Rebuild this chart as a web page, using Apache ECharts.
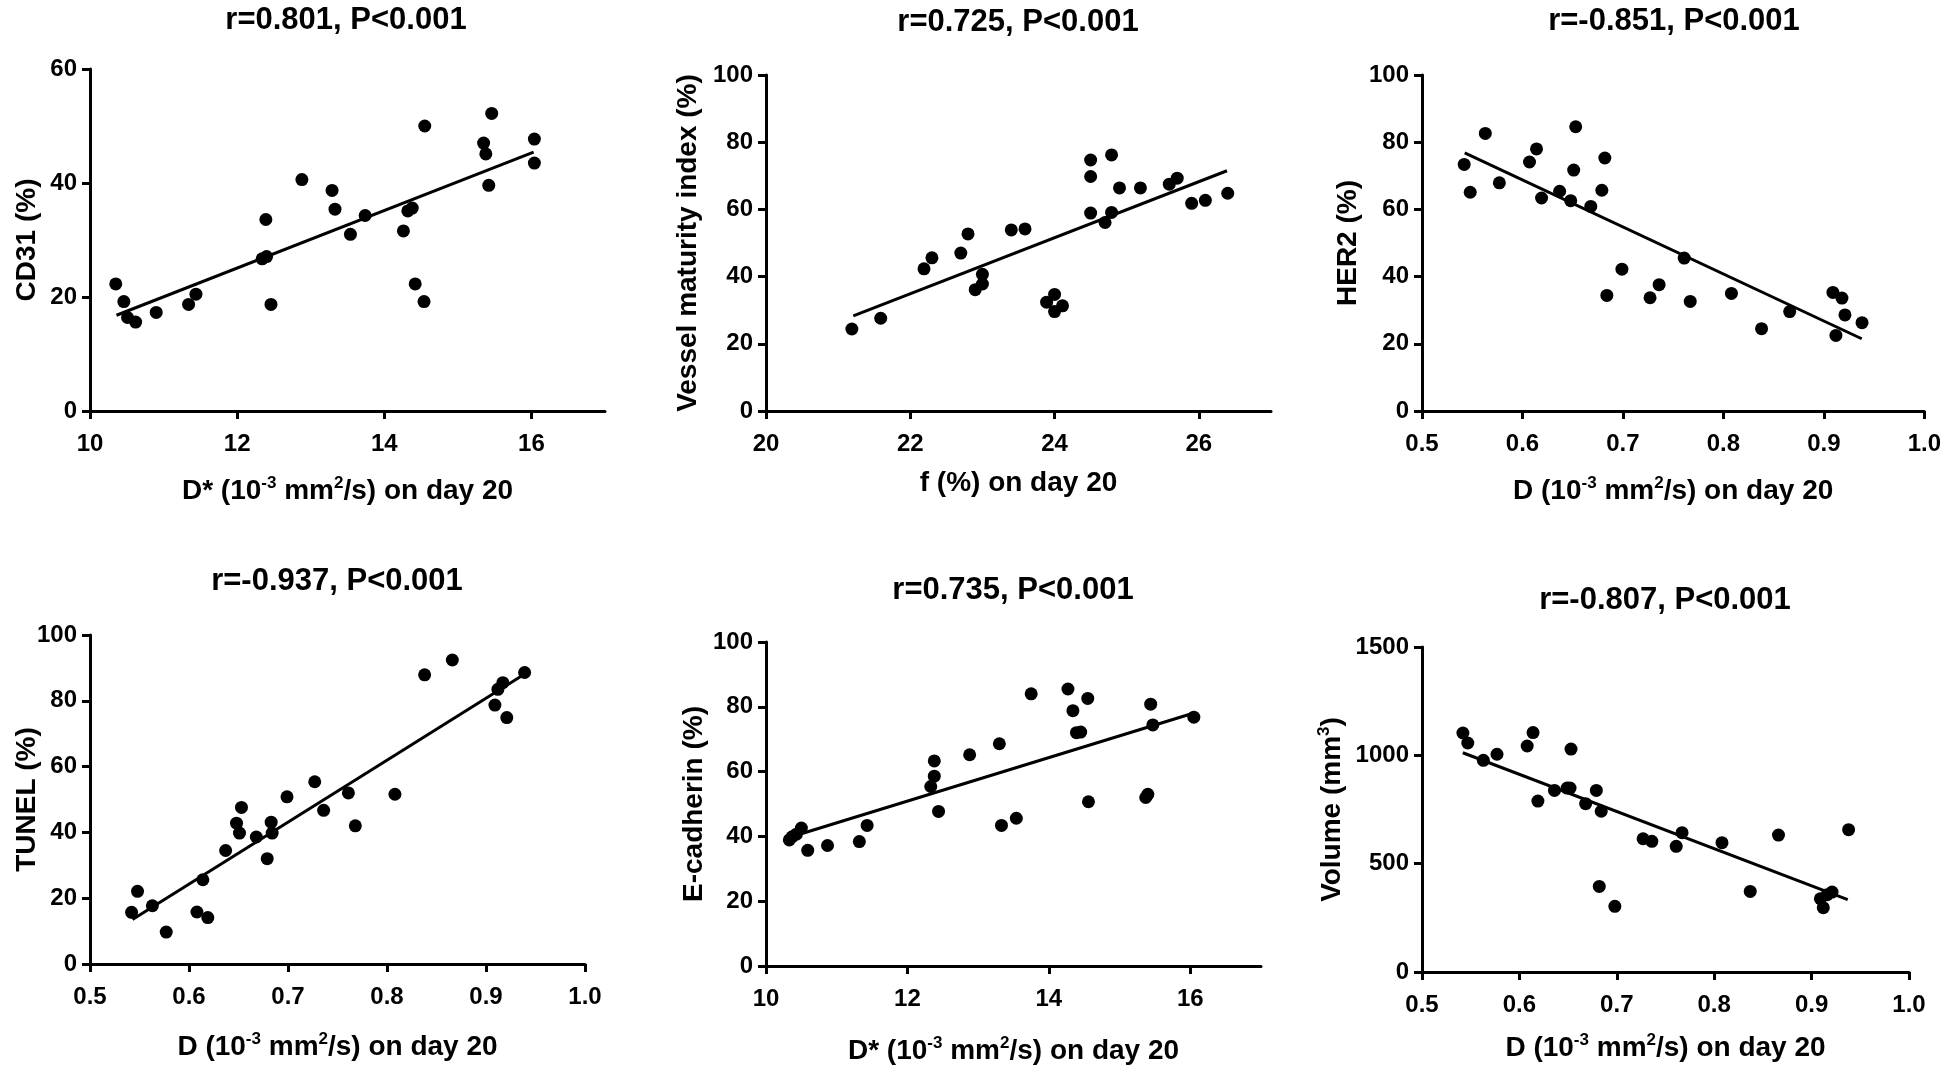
<!DOCTYPE html>
<html>
<head>
<meta charset="utf-8">
<script src="https://cdn.jsdelivr.net/npm/echarts@6/dist/echarts.min.js"></script>
<style>
html,body{margin:0;padding:0;background:#fff;}
#chart{width:1944px;height:1066px;}
</style>
</head>
<body>
<div id="chart"></div>
<script>
// ---------- DATA ----------
// Panel 1: CD31 vs D*
const p1x = [10.35,10.46,10.51,10.62,10.90,11.34,11.44,12.34,12.40,12.39,12.46,12.88,13.29,13.33,13.54,13.74,14.26,14.32,14.38,14.42,14.54,14.55,15.35,15.38,15.42,15.46,16.04,16.04];
const p1y = [22.3,19.2,16.4,15.6,17.3,18.7,20.5,26.7,27.1,33.6,18.7,40.6,38.7,35.4,31.0,34.3,31.6,35.1,35.6,22.3,19.2,50.0,47.0,45.1,39.6,52.2,47.7,43.5];
const fit1x = [10.36,16.03], fit1y = [16.8,45.4];
// Panel 2: Vessel maturity index vs f
const p2x = [21.19,21.59,22.19,22.30,22.70,22.80,22.90,23.00,23.00,23.40,23.59,23.89,24.00,24.00,24.11,24.50,24.50,24.50,24.70,24.79,24.79,24.90,25.19,25.59,25.70,25.90,26.09,26.40];
const p2y = [24.4,27.6,42.3,45.6,47.0,52.7,36.1,37.8,40.7,53.9,54.2,32.4,34.7,29.6,31.3,74.7,69.8,58.9,56.1,76.2,59.1,66.4,66.4,67.5,69.3,61.8,62.7,64.8];
const fit2x = [21.21,26.39], fit2y = [28.3,71.5];
// Panel 3: HER2 vs D
const p3x = [0.542,0.548,0.563,0.577,0.607,0.614,0.619,0.637,0.648,0.651,0.653,0.668,0.679,0.682,0.684,0.699,0.727,0.736,0.761,0.767,0.808,0.838,0.866,0.909,0.918,0.912,0.921,0.938];
const p3y = [73.4,65.1,82.6,67.9,74.1,78.0,63.4,65.4,62.6,71.7,84.6,60.9,65.7,75.3,34.4,42.2,33.7,37.6,45.5,32.6,35.0,24.5,29.6,35.3,33.6,22.5,28.6,26.3];
const fit3x = [0.5425,0.9377], fit3y = [76.8,21.5];
// Panel 4: TUNEL vs D
const p4x = [0.542,0.548,0.563,0.577,0.608,0.614,0.619,0.637,0.648,0.651,0.653,0.668,0.679,0.683,0.684,0.699,0.727,0.736,0.761,0.768,0.808,0.838,0.866,0.909,0.912,0.917,0.921,0.939];
const p4y = [15.7,22.1,17.7,9.7,15.8,25.6,14.1,34.5,42.8,39.8,47.6,38.6,32.0,43.1,39.8,50.8,55.4,46.7,52.0,42.0,51.6,87.9,92.4,78.7,83.5,85.5,74.9,88.6];
const fit4x = [0.5429,0.9387], fit4y = [13.5,88.1];
// Panel 5: E-cadherin vs D*
const p5x = [10.33,10.37,10.43,10.50,10.59,10.87,11.32,11.43,12.33,12.38,12.38,12.44,12.88,13.30,13.33,13.54,13.75,14.27,14.34,14.39,14.45,14.55,14.56,15.37,15.40,15.44,15.47,16.05];
const p5y = [38.9,39.9,40.7,42.6,35.7,37.2,38.4,43.4,55.4,58.6,63.3,47.7,65.2,68.6,43.4,45.6,84.0,85.5,78.8,72.0,72.2,82.6,50.7,52.0,53.0,80.8,74.4,76.8];
const fit5x = [10.51,16.04], fit5y = [40.9,78.0];
// Panel 6: Volume vs D
const p6x = [0.542,0.547,0.563,0.577,0.608,0.614,0.619,0.636,0.649,0.652,0.653,0.668,0.679,0.684,0.682,0.698,0.727,0.736,0.761,0.767,0.808,0.837,0.866,0.909,0.912,0.916,0.921,0.938];
const p6y = [1103,1057,977,1005,1043,1105,789,838,849,849,1029,777,838,742,395,303,615,603,580,643,597,372,632,338,297,357,369,657];
const fit6x = [0.5419,0.9371], fit6y = [1012,334];

const titles = ['r=0.801, P<0.001','r=0.725, P<0.001','r=-0.851, P<0.001','r=-0.937, P<0.001','r=0.735, P<0.001','r=-0.807, P<0.001'];
const yNames = ['{b|CD31 (%)}','{b|Vessel maturity index (%)}','{b|HER2 (%)}','{b|TUNEL (%)}','{b|E-cadherin (%)}','{b|Volume (mm}{s|3}{b|)}'];
const xNames = ['{b|D* (10}{s|-3}{b| mm}{s|2}{b|/s) on day 20}','{b|f (%) on day 20}','{b|D (10}{s|-3}{b| mm}{s|2}{b|/s) on day 20}','{b|D (10}{s|-3}{b| mm}{s|2}{b|/s) on day 20}','{b|D* (10}{s|-3}{b| mm}{s|2}{b|/s) on day 20}','{b|D (10}{s|-3}{b| mm}{s|2}{b|/s) on day 20}'];
const xTicks = [[10,12,14,16],[20,22,24,26],[0.5,0.6,0.7,0.8,0.9,1.0],[0.5,0.6,0.7,0.8,0.9,1.0],[10,12,14,16],[0.5,0.6,0.7,0.8,0.9,1.0]];
const xRange = [[10,17],[20,27],[0.5,1.0],[0.5,1.0],[10,17],[0.5,1.0]];
const yTicks = [[0,20,40,60],[0,20,40,60,80,100],[0,20,40,60,80,100],[0,20,40,60,80,100],[0,20,40,60,80,100],[0,500,1000,1500]];
const yRange = [[0,60],[0,100],[0,100],[0,100],[0,100],[0,1500]];

const px = [p1x,p2x,p3x,p4x,p5x,p6x], py = [p1y,p2y,p3y,p4y,p5y,p6y];
const fx = [fit1x,fit2x,fit3x,fit4x,fit5x,fit6x], fy = [fit1y,fit2y,fit3y,fit4y,fit5y,fit6y];

// ---------- LAYOUT ----------
const FONT = '"Liberation Sans", Arial, sans-serif';
const grids = [
  {left:90, top:69, width:515, height:342},
  {left:766, top:75, width:505, height:336},
  {left:1422, top:75, width:504, height:336},
  {left:90, top:635, width:495, height:329},
  {left:766, top:642, width:495, height:330},
  {left:1422, top:647, width:487, height:325}
];
const titlePos = [[346,20],[1018,22],[1674,21],[337,581],[1013,590],[1665,600]];
const yNameGap = [47,62,58,47,56,74];
const xNameGap = [64,56,64,67,69,60];

const rich = {
  b:{fontSize:28, fontWeight:'bold', fontFamily:FONT, color:'#000', lineHeight:32},
  s:{fontSize:17, fontWeight:'bold', fontFamily:FONT, color:'#000', lineHeight:17, verticalAlign:'top'}
};
const lineStyle = {color:'#000', width:3};

const xAxes = [], yAxes = [], series = [], graphics = [];
for (let i = 0; i < 6; i++) {
  const dec = xRange[i][1] <= 1 ? 1 : 0;
  const step = xTicks[i][1] - xTicks[i][0];
  xAxes.push({
    type:'value', gridIndex:i, min:xRange[i][0], max:xRange[i][1], interval:step,
    axisLine:{show:true, onZero:false, lineStyle},
    axisTick:{show:true, length:8, lineStyle, customValues:xTicks[i]},
    axisLabel:{customValues:xTicks[i], margin:21, color:'#000', fontSize:24, fontWeight:'bold', fontFamily:FONT,
      hideOverlap:false,
      formatter: v => (xTicks[i].some(t => Math.abs(t - v) < 1e-9) ? v.toFixed(dec) : '')},
    splitLine:{show:false},
    name:xNames[i], nameLocation:'middle', nameGap:xNameGap[i], nameMoveOverlap:false, nameTextStyle:{rich}
  });
  yAxes.push({
    type:'value', gridIndex:i, min:yRange[i][0], max:yRange[i][1], interval:yTicks[i][1]-yTicks[i][0],
    axisLine:{show:true, onZero:false, lineStyle},
    axisTick:{show:true, length:8, lineStyle, customValues:yTicks[i]},
    axisLabel:{customValues:yTicks[i], margin:13, color:'#000', fontSize:24, fontWeight:'bold', fontFamily:FONT,
      formatter: v => String(v)},
    splitLine:{show:false},
    name:yNames[i], nameLocation:'middle', nameGap:yNameGap[i], nameMoveOverlap:false, nameTextStyle:{rich}
  });
  series.push({
    type:'scatter', xAxisIndex:i, yAxisIndex:i, symbol:'circle', symbolSize:13,
    itemStyle:{color:'#000', opacity:1}, silent:true,
    data: px[i].map((x, k) => [x, py[i][k]])
  });
  series.push({
    type:'line', xAxisIndex:i, yAxisIndex:i, symbol:'none', silent:true,
    lineStyle:{color:'#000', width:3},
    data: fx[i].map((x, k) => [x, fy[i][k]])
  });
  graphics.push({
    type:'text', x:titlePos[i][0], y:titlePos[i][1],
    style:{text:titles[i], fill:'#000', font:'bold 31px ' + FONT,
      align:'center', verticalAlign:'middle', textAlign:'center', textVerticalAlign:'middle'}
  });
}

const chart = echarts.init(document.getElementById('chart'), null, {renderer:'canvas'});
chart.setOption({
  backgroundColor:'#fff',
  animation:false,
  grid: grids,
  xAxis: xAxes,
  yAxis: yAxes,
  series: series,
  graphic: graphics
});
</script>
</body>
</html>
